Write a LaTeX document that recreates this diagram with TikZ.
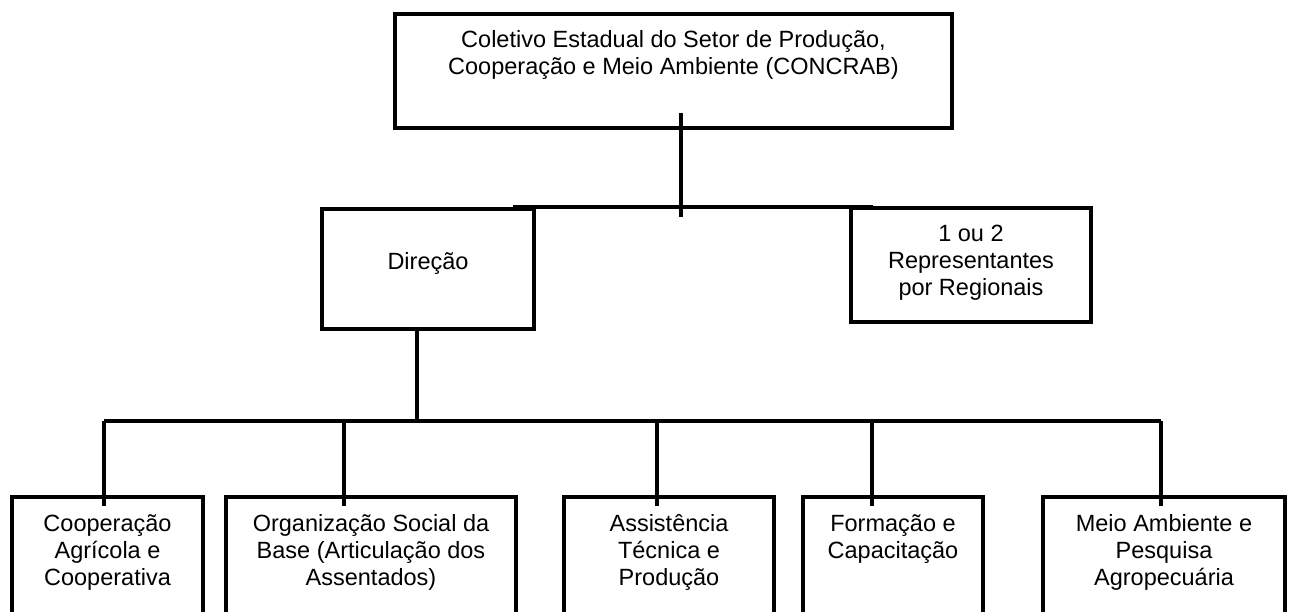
\documentclass[tikz,border=0pt]{standalone}
\usepackage{fontspec}
\setmainfont{Liberation Sans}
\newcommand\boxtxt[4]{\parbox[c][#2pt][t]{#1pt}{\centering\rule{0pt}{#3pt}#4}}
\begin{document}
\begin{tikzpicture}[x=1pt,y=-1pt,
  box/.style={draw=black, line width=4pt, inner sep=0pt, anchor=north west,
    font=\fontsize{23.5}{27}\selectfont},
  conn/.style={draw=black, line width=4pt}]
\useasboundingbox (0,0) rectangle (1290,612);
\clip (0,0) rectangle (1290,612);
% boxes
\node[box] (top) at (393,12) {\boxtxt{557}{114}{34}{Coletivo Estadual do Setor de Produção,\\Cooperação e Meio Ambiente (CONCRAB)}};
\node[box] (dir) at (320,207) {\boxtxt{212}{120}{61}{Direção}};
\node[box] (rep) at (849,206) {\boxtxt{240}{114}{34}{1 ou 2\\Representantes\\por Regionais}};
\node[box] (b1) at (10,495) {\boxtxt{191}{145}{34}{Cooperação\\Agrícola e\\Cooperativa}};
\node[box] (b2) at (224,495) {\boxtxt{290}{145}{34}{Organização Social da\\Base (Articulação dos\\Assentados)}};
\node[box] (b3) at (562,495) {\boxtxt{210}{145}{34}{Assistência\\Técnica e\\Produção}};
\node[box] (b4) at (801,495) {\boxtxt{180}{145}{34}{Formação e\\Capacitação}};
\node[box] (b5) at (1041,495) {\boxtxt{242}{145}{34}{Meio Ambiente e\\Pesquisa\\Agropecuária}};
% connector points
\coordinate (tstub) at (681,113);
\coordinate (tjoin) at (681,217);
\coordinate (hl) at (513,207);
\coordinate (hr) at (873,207);
\coordinate (dstub) at (417,327);
\coordinate (bl) at (104,421);
\coordinate (br) at (1161,421);
\coordinate (e1) at (104,506);
\coordinate (e2) at (344,506);
\coordinate (e3) at (657,506);
\coordinate (e4) at (872,506);
\coordinate (e5) at (1161,506);
% connectors
\draw[conn] (tstub) -- (tjoin);
\draw[conn] (hl) -- (hr);
\draw[conn] (dstub) -- (dstub |- bl);
\draw[conn] (bl) -- (br);
\draw[conn] (e1 |- bl) -- (e1);
\draw[conn] (e2 |- bl) -- (e2);
\draw[conn] (e3 |- bl) -- (e3);
\draw[conn] (e4 |- bl) -- (e4);
\draw[conn] (e5 |- bl) -- (e5);
\end{tikzpicture}
\end{document}
